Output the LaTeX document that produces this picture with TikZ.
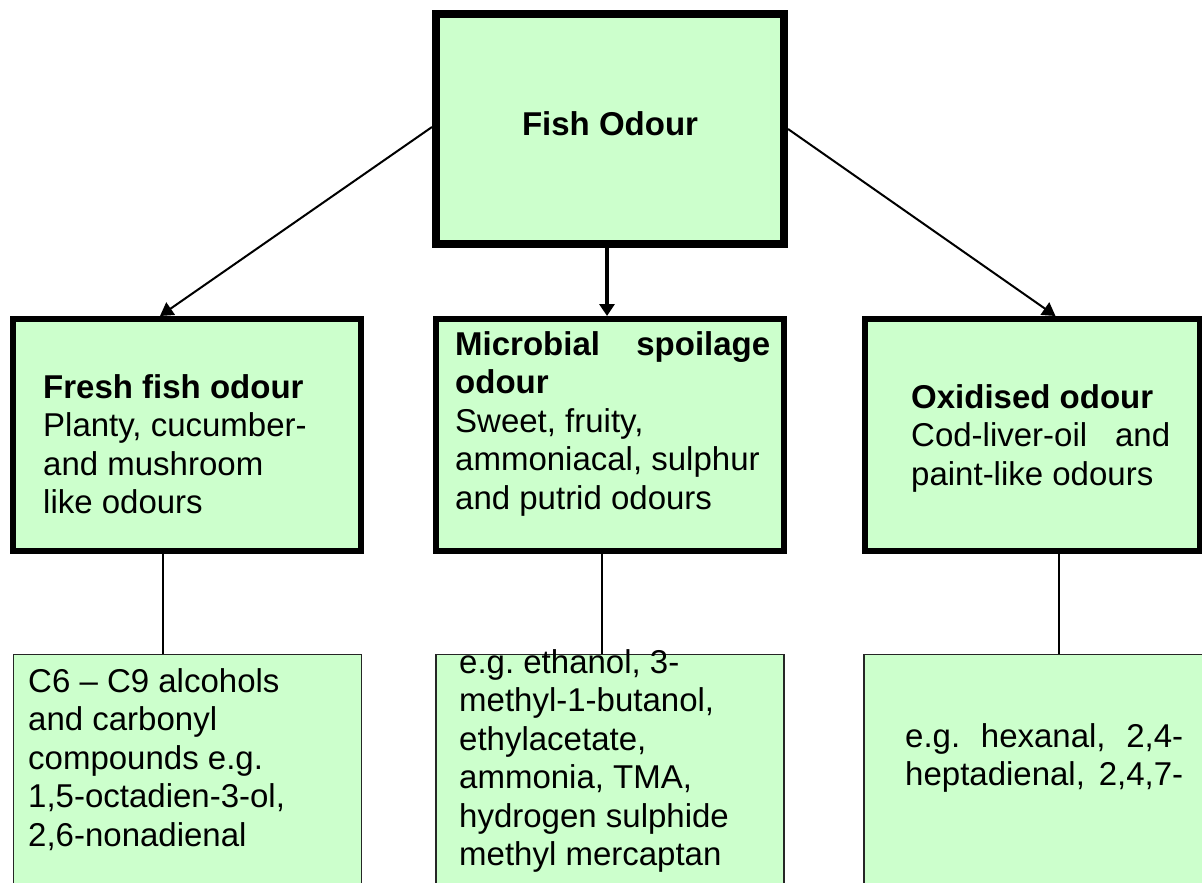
\documentclass[tikz,border=0pt]{standalone}
\usepackage{fontspec}
\setmainfont{Liberation Sans}
\usetikzlibrary{arrows.meta}
\definecolor{boxgreen}{HTML}{CCFFCC}
\tikzset{
  topbox/.style={draw=black, fill=boxgreen, line width=8pt, minimum width=348pt, minimum height=230pt, inner sep=0pt,
    font=\fontsize{33}{38.5}\selectfont\bfseries, text height=24pt, text depth=12pt},
  midbox/.style={draw=black, fill=boxgreen, line width=6pt, minimum height=232pt, inner sep=0pt},
  lowbox/.style={draw=black!85, fill=boxgreen, line width=1.3pt, minimum height=250pt, inner sep=0pt, anchor=north},
  txt/.style={anchor=base west, inner sep=0pt, font=\fontsize{33}{38.5}\selectfont\frenchspacing},
  thinline/.style={line width=1.3pt},
  arr/.style={line width=2pt, -{Triangle[length=13pt,width=15pt]}},
  marr/.style={line width=3.5pt, -{Triangle[length=12pt,width=15pt]}},
}
\newcommand{\tb}[2]{\parbox[t]{#1}{\fontsize{33}{38.5}\selectfont\frenchspacing #2}}
\begin{document}
\begin{tikzpicture}[x=1pt,y=-1pt]
\useasboundingbox (0,0) rectangle (1202,883);
\clip (0,0) rectangle (1202,883);

% boxes
\node[topbox] (top) at (610,129) {Fish Odour};
\node[midbox, minimum width=348pt] (fresh) at (187,435) {};
\node[midbox, minimum width=348pt] (mic) at (610,435) {};
\node[midbox, minimum width=335pt] (ox) at (1032.5,435) {};
\node[lowbox, minimum width=348pt] (ex1) at (187.5,654) {};
\node[lowbox, minimum width=348pt] (ex2) at (610,654) {};
\node[lowbox, minimum width=350pt] (ex3) at (1039,654) {};

% texts
\node[txt] (freshtxt) at (43,398) {\tb{300pt}{\textbf{Fresh fish odour}\\Planty, cucumber-\\and mushroom\\like odours}};
\node[txt] (mictxt) at (455,355) {\tb{315pt}{\textbf{Microbial\hfill spoilage}\\\textbf{odour}\\Sweet, fruity,\\ammoniacal, sulphur\\and putrid odours}};
\node[txt] (oxtxt) at (911,408) {\tb{259pt}{\textbf{Oxidised odour}\\Cod-liver-oil\hfill and\\paint-like odours}};
\node[txt] (ex1txt) at (28,692) {\tb{330pt}{C6 – C9 alcohols\\and carbonyl\\compounds e.g.\\1,5-octadien-3-ol,\\2,6-nonadienal}};
\node[txt] (ex2txt) at (459,673) {\tb{320pt}{e.g. ethanol, 3-\\methyl-1-butanol,\\ethylacetate,\\ammonia, TMA,\\hydrogen sulphide\\methyl mercaptan}};
\node[txt] (ex3txt) at (905,747) {\tb{278pt}{e.g.\hfill hexanal,\hfill 2,4-\\heptadienal,\hfill 2,4,7-}};

% arrows
\draw[arr] ([yshift=2pt]top.west) -- ([xshift=-27pt]fresh.north);
\draw[arr] (top.east) -- ([xshift=23pt]ox.north);
\draw[marr] ([xshift=-3pt]top.south) -- ([xshift=-3pt]mic.north);

% vertical connectors
\draw[thinline] ([xshift=-24pt]fresh.south) -- ([xshift=-24pt]fresh.south |- ex1.north);
\draw[thinline] ([xshift=-8pt]mic.south) -- ([xshift=-8pt]mic.south |- ex2.north);
\draw[thinline] ([xshift=26.5pt]ox.south) -- ([xshift=26.5pt]ox.south |- ex3.north);
\end{tikzpicture}
\end{document}
